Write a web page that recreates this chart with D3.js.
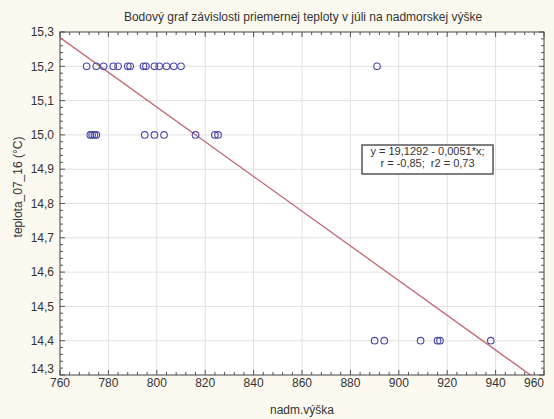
<!DOCTYPE html>
<html>
<head>
<meta charset="utf-8">
<script src="https://cdn.jsdelivr.net/npm/d3@7"></script>
<style>
  body { margin: 0; background: #fbf9f0; }
  text { font-family: "Liberation Sans", Arial, sans-serif; fill: #333; white-space: pre; }
</style>
</head>
<body>
<div id="chart"></div>
<script>
// data
const vyska152 = [771, 775, 778, 782, 784, 788, 789, 794.5, 795.5, 799, 801, 804, 807, 810, 891];
const vyska150 = [772.5, 773.3, 774.2, 775, 795, 799, 803, 816, 824, 825.3];
const vyska144 = [890, 894, 909, 916, 917, 938];
const xTicks = [760, 780, 800, 820, 840, 860, 880, 900, 920, 940, 960];
const yTicks = [14.3, 14.4, 14.5, 14.6, 14.7, 14.8, 14.9, 15.0, 15.1, 15.2, 15.3];
const intercept = 19.1292;
const slope = -0.00506;
const eqLines = ['y = 19,1292 - 0,0051*x;', 'r = -0,85;  r2 = 0,73'];

const points = [].concat(
  vyska152.map(x => ({ x, y: 15.2 })),
  vyska150.map(x => ({ x, y: 15.0 })),
  vyska144.map(x => ({ x, y: 14.4 }))
);

const W = 554, H = 419;
const margin = { top: 32, right: 10, bottom: 44, left: 60 };

const svg = d3.select('#chart').append('svg')
  .attr('width', W).attr('height', H);

const x = d3.scaleLinear().domain([760, 960]).range([margin.left, W - margin.right]);
const y = d3.scaleLinear().domain([14.3, 15.3]).range([H - margin.bottom, margin.top]);
const fmt = d => d3.format('.1f')(d).replace('.', ',');

// plot background
svg.append('rect')
  .attr('x', x(760)).attr('y', y(15.3))
  .attr('width', x(960) - x(760)).attr('height', y(14.3) - y(15.3))
  .attr('fill', '#fff');

// grid
svg.append('g').selectAll('line').data(xTicks.slice(1, -1)).join('line')
  .attr('x1', d => x(d)).attr('x2', d => x(d))
  .attr('y1', y(15.3)).attr('y2', y(14.3))
  .attr('stroke', '#e0e0e0');
svg.append('g').selectAll('line').data(yTicks.slice(1, -1)).join('line')
  .attr('y1', d => y(d)).attr('y2', d => y(d))
  .attr('x1', x(760)).attr('x2', x(960))
  .attr('stroke', '#e0e0e0');

// minor + major ticks on all four sides, pointing inward
const xMinor = d3.range(760, 961, 4);
const yMinor = d3.range(0, 51).map(i => 14.3 + i * 0.02);
const tickG = svg.append('g').attr('stroke', '#555');
xMinor.forEach(v => {
  const len = xTicks.includes(v) ? 5 : 3;
  tickG.append('line').attr('x1', x(v)).attr('x2', x(v)).attr('y1', y(14.3)).attr('y2', y(14.3) - len);
  tickG.append('line').attr('x1', x(v)).attr('x2', x(v)).attr('y1', y(15.3)).attr('y2', y(15.3) + len);
});
yMinor.forEach((v, i) => {
  const len = i % 5 === 0 ? 5 : 3;
  tickG.append('line').attr('y1', y(v)).attr('y2', y(v)).attr('x1', x(760)).attr('x2', x(760) + len);
  tickG.append('line').attr('y1', y(v)).attr('y2', y(v)).attr('x1', x(960)).attr('x2', x(960) - len);
});

// regression line, clipped to the plot
svg.append('clipPath').attr('id', 'clip').append('rect')
  .attr('x', x(760)).attr('y', y(15.3))
  .attr('width', x(960) - x(760)).attr('height', y(14.3) - y(15.3));
svg.append('line')
  .attr('clip-path', 'url(#clip)')
  .attr('x1', x(760)).attr('y1', y(intercept + slope * 760))
  .attr('x2', x(960)).attr('y2', y(intercept + slope * 960))
  .attr('stroke', '#c26872').attr('stroke-width', 1.3);

// points
svg.append('g').selectAll('circle').data(points).join('circle')
  .attr('cx', d => x(d.x)).attr('cy', d => y(d.y)).attr('r', 3.3)
  .attr('fill', 'none').attr('stroke', '#4a4aa8').attr('stroke-width', 1.1);

// frame
svg.append('rect')
  .attr('x', x(760)).attr('y', y(15.3))
  .attr('width', x(960) - x(760)).attr('height', y(14.3) - y(15.3))
  .attr('fill', 'none').attr('stroke', '#444');

// tick labels
svg.append('g').selectAll('text').data(yTicks).join('text')
  .attr('x', x(760) - 6)
  .attr('y', d => d === 14.3 ? y(d) - 6 : y(d))
  .attr('dy', '0.35em').attr('text-anchor', 'end')
  .attr('font-size', 12).text(fmt);
svg.append('g').selectAll('text').data(xTicks).join('text')
  .attr('x', d => x(d)).attr('y', y(14.3) + 12)
  .attr('text-anchor', d => d === 960 ? 'end' : 'middle')
  .attr('font-size', 12).text(d => d);

// titles
svg.append('text').attr('x', 303).attr('y', 21).attr('text-anchor', 'middle')
  .attr('font-size', 12).text('Bodový graf závislosti priemernej teploty v júli na nadmorskej výške');
svg.append('text').attr('x', 302).attr('y', 414).attr('text-anchor', 'middle')
  .attr('font-size', 12).text('nadm.výška');
svg.append('text').attr('transform', 'translate(22,187) rotate(-90)').attr('text-anchor', 'middle')
  .attr('font-size', 12).text('teplota_07_16 (°C)');

// equation box
const box = svg.append('g');
box.append('rect').attr('x', 362).attr('y', 145).attr('width', 131).attr('height', 29)
  .attr('fill', '#fff').attr('stroke', '#555').attr('stroke-width', 1.5);
box.selectAll('text').data(eqLines).join('text')
  .attr('x', 427.5).attr('y', (d, i) => 159 + i * 12 - 4)
  .attr('text-anchor', 'middle').attr('font-size', 11).text(d => d);
</script>
</body>
</html>
